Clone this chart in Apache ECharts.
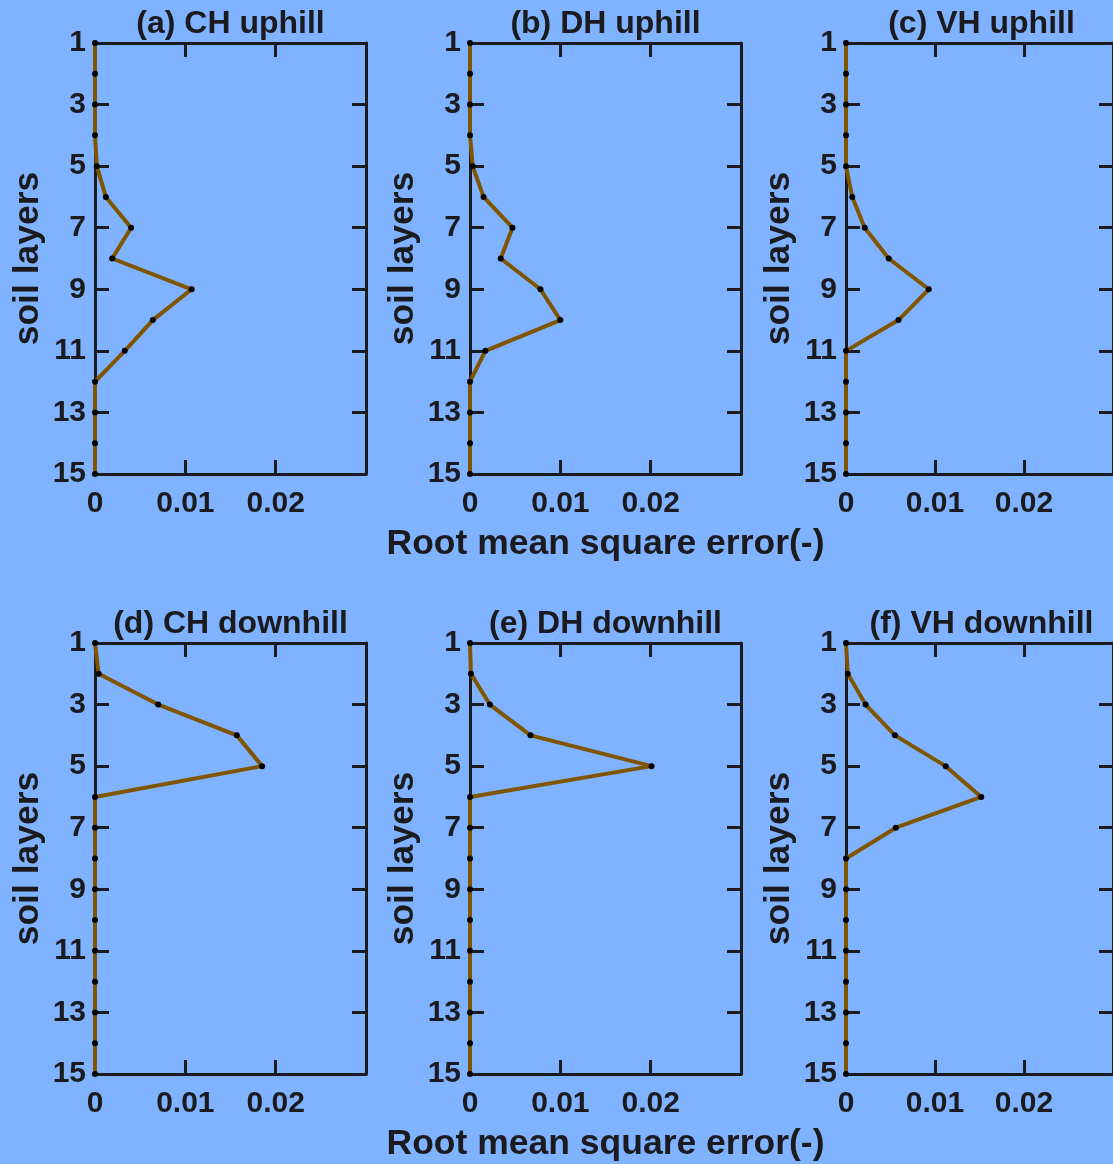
<!DOCTYPE html>
<html>
<head>
<meta charset="utf-8">
<script src="https://cdn.jsdelivr.net/npm/echarts@6/dist/echarts.min.js"></script>
<style>
  html, body { margin: 0; padding: 0; background: #80b3ff; }
  #chart { width: 1113px; height: 1164px; }
</style>
</head>
<body>
<div id="chart"></div>
<script>
// Soil layers 1 (surface) to 15 (deepest)
const layers = [1, 2, 3, 4, 5, 6, 7, 8, 9, 10, 11, 12, 13, 14, 15];

// RMSE per soil layer for each hillslope configuration
const chUphill   = [0, 0, 0, 0, 0.0002, 0.0012, 0.0040, 0.0019, 0.0107, 0.0064, 0.0033, 0, 0, 0, 0];
const dhUphill   = [0, 0, 0, 0, 0.0003, 0.0015, 0.0047, 0.0034, 0.0078, 0.0100, 0.0017, 0, 0, 0, 0];
const vhUphill   = [0, 0, 0, 0, 0, 0.0007, 0.0021, 0.0048, 0.0093, 0.0059, 0, 0, 0, 0, 0];
const chDownhill = [0, 0.0004, 0.0070, 0.0157, 0.0185, 0, 0, 0, 0, 0, 0, 0, 0, 0, 0];
const dhDownhill = [0, 0.0001, 0.0022, 0.0067, 0.0201, 0, 0, 0, 0, 0, 0, 0, 0, 0, 0];
const vhDownhill = [0, 0.0002, 0.0022, 0.0055, 0.0112, 0.0152, 0.0056, 0, 0, 0, 0, 0, 0, 0, 0];

const panelTitles = ['(a) CH uphill', '(b) DH uphill', '(c) VH uphill',
                     '(d) CH downhill', '(e) DH downhill', '(f) VH downhill'];
const panelValues = [chUphill, dhUphill, vhUphill, chDownhill, dhDownhill, vhDownhill];

// Tick positions
const layerTicks = [1, 3, 5, 7, 9, 11, 13, 15];
const rmseTicks = [0, 0.01, 0.02];

const xLabel = 'Root mean square error(-)';
const yLabel = 'soil layers';

// Layout of the 2x3 panel grid (pixels)
const colLeft = [95, 470, 846];
const rowTop = [43, 643];
const plotW = 271;
const plotH = 431;

const ink = '#1b1b1f';
const lineBrown = '#805500';
const font = 'Liberation Sans';

const grids = [], xAxes = [], yAxes = [], series = [], titles = [];

panelValues.forEach(function (vals, i) {
  const r = Math.floor(i / 3), c = i % 3;
  grids.push({ left: colLeft[c], top: rowTop[r], width: plotW, height: plotH, containLabel: false });

  const axisLine = { show: true, onZero: false, lineStyle: { color: ink, width: 3 } };
  const tick = { show: true, inside: true, length: 14, lineStyle: { color: ink, width: 3 } };

  // bottom x axis with labels
  xAxes.push({
    type: 'value', gridIndex: i, position: 'bottom', min: 0, max: 0.03,
    axisLine: axisLine,
    axisTick: Object.assign({ customValues: rmseTicks }, tick),
    axisLabel: {
      customValues: rmseTicks, margin: 15, color: ink, fontFamily: font, fontWeight: 'bold', fontSize: 30,
      formatter: function (v) { return String(+v.toFixed(3)); }
    },
    splitLine: { show: false },
    name: c === 1 ? xLabel : '', nameLocation: 'middle', nameGap: 52,
    nameTextStyle: { color: ink, fontFamily: font, fontWeight: 'bold', fontSize: 35.5 }
  });
  // top x axis: box edge with mirrored ticks
  xAxes.push({
    type: 'value', gridIndex: i, position: 'top', min: 0, max: 0.03,
    axisLine: axisLine,
    axisTick: Object.assign({ customValues: rmseTicks }, tick),
    axisLabel: { show: false }, splitLine: { show: false }
  });
  // left y axis with labels
  yAxes.push({
    type: 'value', gridIndex: i, position: 'left', min: 1, max: 15, inverse: true,
    axisLine: axisLine,
    axisTick: Object.assign({ customValues: layerTicks }, tick),
    axisLabel: { customValues: layerTicks, margin: 9, color: ink, fontFamily: font, fontWeight: 'bold', fontSize: 30 },
    splitLine: { show: false },
    name: yLabel, nameLocation: 'middle', nameRotate: 90, nameGap: 49,
    nameTextStyle: { color: ink, fontFamily: font, fontWeight: 'bold', fontSize: 35.5 }
  });
  // right y axis: box edge with mirrored ticks
  yAxes.push({
    type: 'value', gridIndex: i, position: 'right', min: 1, max: 15, inverse: true,
    axisLine: axisLine,
    axisTick: Object.assign({ customValues: layerTicks }, tick),
    axisLabel: { show: false }, splitLine: { show: false }
  });

  series.push({
    type: 'line', xAxisIndex: 2 * i, yAxisIndex: 2 * i, clip: false,
    data: layers.map(function (l, k) { return [vals[k], l]; }),
    symbol: 'circle', symbolSize: 6,
    itemStyle: { color: '#000' },
    lineStyle: { color: lineBrown, width: 4 },
    z: 5, animation: false
  });

  titles.push({
    text: panelTitles[i], left: colLeft[c] + plotW / 2 - 5, top: rowTop[r] - 40, textAlign: 'center',
    textStyle: { color: ink, fontFamily: font, fontWeight: 'bold', fontSize: 32 }
  });
});

const chart = echarts.init(document.getElementById('chart'), null, { renderer: 'canvas' });
chart.setOption({
  backgroundColor: '#80b3ff',
  animation: false,
  title: titles,
  grid: grids,
  xAxis: xAxes,
  yAxis: yAxes,
  series: series
});
</script>
</body>
</html>
